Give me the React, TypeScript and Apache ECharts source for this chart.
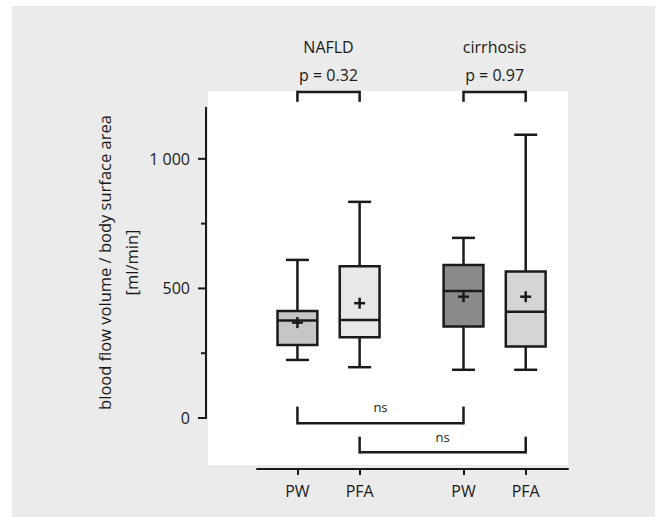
import React, { useEffect, useRef } from 'react';
import * as echarts from 'echarts';

// ---- data ----
const groups = ['NAFLD', 'cirrhosis'];
const pValues = ['p = 0.32', 'p = 0.97'];
const categories = ['PW', 'PFA', 'PW', 'PFA'];
const whiskerLow = [224, 196, 186, 186];
const q1 = [282, 312, 353, 276];
const median = [376, 378, 490, 410];
const q3 = [413, 586, 590, 565];
const whiskerHigh = [610, 834, 695, 1093];
const means = [368, 443, 468, 468];
const yTicks = [0, 500, 1000];
const yTickLabels = ['0', '500', '1 000'];
const yMinorTicks = [250, 750];
const yMax = 1200;
const comparisons = [
  { from: 0, to: 2, label: 'ns' },
  { from: 1, to: 3, label: 'ns' },
];
const yAxisTitle = 'blood flow volume / body surface area\n[ml/min]';

// ---- layout / style ----
const slotX = [1, 2, 3.67, 4.67];
const boxColors = ['#c6c6c6', '#e8e8e8', '#8a8a8a', '#d5d5d5'];
const INK = '#1a1a1a';
const FONT = '"Open Sans", "Noto Sans", sans-serif';

export default function App() {
  const ref = useRef<HTMLDivElement>(null);
  useEffect(() => {
    if (!ref.current) return;
    const chart = echarts.init(ref.current, undefined, { renderer: 'svg' });

    const boxData = categories.map((_, i) => [
      slotX[i], whiskerLow[i], q1[i], median[i], q3[i], whiskerHigh[i], means[i],
    ]);

    const line = (x1: number, y1: number, x2: number, y2: number, w = 2.5) => ({
      type: 'line',
      shape: { x1, y1, x2, y2 },
      style: { stroke: INK, lineWidth: w, lineCap: 'butt' },
    });

    const text = (t: string, x: number, y: number, size: number) => ({
      type: 'text',
      style: {
        text: t, x, y, align: 'center', verticalAlign: 'middle',
        fontSize: size, fontFamily: FONT, fill: INK,
      },
    });

    const baseGraphic: any[] = [
      { type: 'rect', id: 'bg', z: -10, shape: { x: 12, y: 6, width: 643, height: 511 }, style: { fill: '#ebebeb' } },
      { type: 'rect', id: 'plot', z: -9, shape: { x: 208, y: 91, width: 360, height: 374 }, style: { fill: '#ffffff' } },
    ];

    const option: any = {
      animation: false,
      graphic: baseGraphic,
      grid: [
        { left: 206, right: 92, top: 107, bottom: 99 },
        { left: 257, right: 92, top: 107, bottom: 99 },
      ],
      xAxis: [
        { gridIndex: 0, type: 'value', min: 0, max: 1, show: false },
        {
          gridIndex: 1, type: 'value', min: 0.35, max: 5.35, offset: 51,
          splitLine: { show: false },
          axisLine: { show: true, onZero: false, lineStyle: { color: INK, width: 2 } },
          axisTick: { show: true, customValues: slotX, length: 6, lineStyle: { color: INK, width: 2 } },
          axisLabel: {
            customValues: slotX, margin: 14, fontSize: 16, fontFamily: FONT, color: INK,
            formatter: (v: number) => {
              let best = 0;
              slotX.forEach((s, i) => { if (Math.abs(s - v) < Math.abs(slotX[best] - v)) best = i; });
              return categories[best];
            },
          },
        },
      ],
      yAxis: [
        {
          gridIndex: 0, type: 'value', min: 0, max: yMax,
          splitLine: { show: false },
          axisLine: { show: false },
          axisTick: { show: false },
          axisLabel: {
            customValues: yTicks, margin: 16, fontSize: 16, fontFamily: FONT, color: INK,
            formatter: (v: number) => yTickLabels[yTicks.indexOf(v)] ?? '',
          },
          name: yAxisTitle, nameLocation: 'middle', nameRotate: 90, nameGap: 61,
          nameMoveOverlap: false,
          nameTextStyle: { fontSize: 16.5, fontFamily: FONT, color: INK, lineHeight: 27, align: 'center' },
        },
        { gridIndex: 1, type: 'value', min: 0, max: yMax, show: false },
      ],
      series: [
        {
          type: 'custom', xAxisIndex: 1, yAxisIndex: 1, clip: false,
          data: boxData,
          renderItem: (params: any, api: any) => {
            const i = params.dataIndex;
            const x = api.value(0);
            const c = (v: number) => api.coord([x, v]);
            const cx = c(0)[0];
            const yLo = c(api.value(1))[1];
            const yQ1 = c(api.value(2))[1];
            const yMed = c(api.value(3))[1];
            const yQ3 = c(api.value(4))[1];
            const yHi = c(api.value(5))[1];
            const yMean = c(api.value(6))[1];
            const halfW = api.size([0.64, 0])[0] / 2;
            const capHalf = api.size([0.37, 0])[0] / 2;
            const plus = 5.5;
            return {
              type: 'group',
              children: [
                line(cx, yLo, cx, yQ1),
                line(cx, yQ3, cx, yHi),
                line(cx - capHalf, yLo, cx + capHalf, yLo),
                line(cx - capHalf, yHi, cx + capHalf, yHi),
                {
                  type: 'rect',
                  shape: { x: cx - halfW, y: yQ3, width: halfW * 2, height: yQ1 - yQ3 },
                  style: { fill: boxColors[i], stroke: INK, lineWidth: 2.5 },
                },
                line(cx - halfW, yMed, cx + halfW, yMed),
                line(cx - plus, yMean, cx + plus, yMean, 2.5),
                line(cx, yMean - plus, cx, yMean + plus, 2.5),
              ],
            };
          },
        },
        {
          type: 'custom', xAxisIndex: 1, yAxisIndex: 1, clip: false,
          data: groups.map((_, g) => [slotX[g * 2], slotX[g * 2 + 1]]),
          renderItem: (params: any, api: any) => {
            const g = params.dataIndex;
            const a = api.coord([api.value(0), 1258]);
            const b = api.coord([api.value(1), 1220]);
            const mid = (a[0] + b[0]) / 2;
            return {
              type: 'group',
              children: [
                line(a[0], a[1], b[0], a[1]),
                line(a[0], a[1] - 1.25, a[0], b[1]),
                line(b[0], a[1] - 1.25, b[0], b[1]),
                text(pValues[g], mid, api.coord([0, 1323])[1], 16),
                text(groups[g], mid, api.coord([0, 1433])[1], 16),
              ],
            };
          },
        },
        {
          type: 'custom', xAxisIndex: 1, yAxisIndex: 1, clip: false,
          data: comparisons.map((cmp) => [slotX[cmp.from], slotX[cmp.to]]),
          renderItem: (params: any, api: any) => {
            const k = params.dataIndex;
            const levels = [[44, -20], [-72, -132]][k];
            const a = api.coord([api.value(0), levels[1]]);
            const b = api.coord([api.value(1), levels[0]]);
            const mid = (a[0] + b[0]) / 2;
            return {
              type: 'group',
              children: [
                line(a[0], a[1], b[0], a[1]),
                line(a[0], a[1] + 1.25, a[0], b[1]),
                line(b[0], a[1] + 1.25, b[0], b[1]),
                text(comparisons[k].label, mid, b[1], 13),
              ],
            };
          },
        },
      ],
    };
    chart.setOption(option);

    // y axis line and ticks, placed through the grid's own scale
    const px = (v: number) => chart.convertToPixel({ gridIndex: 0 }, [0, v]) as number[];
    const pTop = px(yMax);
    const pBot = px(0);
    const axisStyle = { stroke: INK, lineWidth: 2 };
    const axisEls: any[] = [
      { type: 'line', id: 'yaxis-line', z: 10, shape: { x1: pBot[0], y1: pBot[1] + 1, x2: pTop[0], y2: pTop[1] }, style: axisStyle },
      ...yTicks.map((v, i) => {
        const p = px(v);
        return { type: 'line', id: 'ytick' + i, z: 10, shape: { x1: p[0] - 8, y1: p[1], x2: p[0], y2: p[1] }, style: axisStyle };
      }),
      ...yMinorTicks.map((v, i) => {
        const p = px(v);
        return { type: 'line', id: 'yminor' + i, z: 10, shape: { x1: p[0] - 5, y1: p[1], x2: p[0], y2: p[1] }, style: axisStyle };
      }),
    ];
    chart.setOption({ graphic: [...baseGraphic, ...axisEls] });

    return () => chart.dispose();
  }, []);
  return (
    <div
      ref={ref}
      style={{ position: 'absolute', left: 0, top: 0, width: 660, height: 517 }}
    />
  );
}
